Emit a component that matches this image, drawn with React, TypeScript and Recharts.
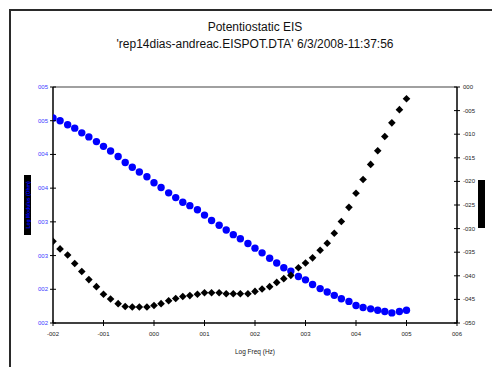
import React from 'react';
import { ScatterChart, Scatter, XAxis, YAxis, ReferenceLine } from 'recharts';

const logFreq = [
  -2.0, -1.86, -1.71, -1.57, -1.43, -1.29, -1.14, -1.0, -0.86, -0.71,
  -0.57, -0.43, -0.29, -0.14, 0.0, 0.14, 0.29, 0.43, 0.57, 0.71,
  0.86, 1.0, 1.14, 1.29, 1.43, 1.57, 1.71, 1.86, 2.0, 2.14,
  2.29, 2.43, 2.57, 2.71, 2.86, 3.0, 3.14, 3.29, 3.43, 3.57,
  3.71, 3.86, 4.0, 4.14, 4.29, 4.43, 4.57, 4.71, 4.86, 5.0,
];

const logModulus = [
  4.54, 4.5, 4.44, 4.39, 4.32, 4.26, 4.19, 4.12, 4.05, 3.97,
  3.88, 3.81, 3.74, 3.67, 3.58, 3.51, 3.43, 3.36, 3.29, 3.24,
  3.18, 3.1, 3.02, 2.95, 2.88, 2.81, 2.75, 2.68, 2.61, 2.54,
  2.46, 2.39, 2.32, 2.27, 2.19, 2.14, 2.07, 2.01, 1.96, 1.91,
  1.86, 1.82, 1.76, 1.73, 1.71, 1.69, 1.67, 1.65, 1.67, 1.69,
];

const phase = [
  -32.7, -34.3, -35.6, -37.4, -39.1, -40.8, -42.3, -43.9, -44.9, -45.9,
  -46.5, -46.6, -46.6, -46.6, -46.3, -45.9, -45.3, -44.8, -44.4, -44.2,
  -43.9, -43.6, -43.6, -43.6, -43.8, -43.8, -43.8, -43.8, -43.3, -42.8,
  -42.3, -41.4, -40.6, -39.9, -38.3, -37.3, -36.2, -34.6, -33.1, -31.0,
  -28.5, -25.5, -22.5, -19.6, -16.4, -13.5, -10.5, -7.6, -4.8, -2.5,
];

const xTicks = [-2, -1, 0, 1, 2, 3, 4, 5, 6];
const leftTicks = [1.5, 2, 2.5, 3, 3.5, 4, 4.5, 5];
const rightTicks = [-50, -45, -40, -35, -30, -25, -20, -15, -10, -5, 0];

const title1 = 'Potentiostatic EIS';
const title2 = "'rep14dias-andreac.EISPOT.DTA' 6/3/2008-11:37:56";
const xLabel = 'Log Freq (Hz)';
const leftLabel = 'Log Modulus (Ohm)';
const rightLabel = 'Phase (deg)';

const modData = logFreq.map((f, i) => ({ f, mod: logModulus[i] }));
const phaseData = logFreq.map((f, i) => ({ f, phase: phase[i] }));

const pad = (n: number) => {
  const r = Math.round(n);
  return (r < 0 ? '-' : '') + String(Math.abs(r)).padStart(3, '0');
};

const FONT = '"Liberation Sans", Arial, sans-serif';
const TS = 3;
const TM_L = 2;
const TM_R = 3;
const TM_B = 6;

const LeftTick = (props: any) => {
  const { x, y, payload } = props;
  const ax = x + TS + TM_L;
  return (
    <g>
      <line x1={ax - 3} x2={ax + 3} y1={y} y2={y} stroke="#000" strokeWidth={1} />
      <text x={x} y={y} dy={2} textAnchor="end" fontSize={6} fill="#3a3aff" fontFamily={FONT}>
        {pad(payload.value)}
      </text>
    </g>
  );
};

const RightTick = (props: any) => {
  const { x, y, payload } = props;
  const ax = x - TS - TM_R;
  return (
    <g>
      <line x1={ax - 3} x2={ax + 3} y1={y} y2={y} stroke="#000" strokeWidth={1} />
      <text x={x} y={y} dy={2} textAnchor="start" fontSize={6} fill="#222" fontFamily={FONT}>
        {pad(payload.value)}
      </text>
    </g>
  );
};

const BottomTick = (props: any) => {
  const { x, y, payload } = props;
  const ay = y - TS - TM_B;
  return (
    <g>
      <line x1={x} x2={x} y1={ay - 3} y2={ay + 3} stroke="#000" strokeWidth={1} />
      <text x={x} y={y} dy={4} textAnchor="middle" fontSize={6} fill="#222" fontFamily={FONT}>
        {pad(payload.value)}
      </text>
    </g>
  );
};

const Dot = (props: any) => {
  const { cx, cy } = props;
  return <circle cx={cx} cy={cy} r={3.7} fill="#0000ff" />;
};

const Diamond = (props: any) => {
  const { cx, cy } = props;
  const s = 3.8;
  return (
    <polygon
      points={`${cx},${cy - s} ${cx + s},${cy} ${cx},${cy + s} ${cx - s},${cy}`}
      fill="#000"
    />
  );
};

export default function App() {
  return (
    <div style={{ position: 'absolute', left: 0, top: 0, width: 492, height: 367, overflow: 'hidden', background: '#fff', fontFamily: FONT }}>
      <div style={{ position: 'absolute', left: 9, top: 9, width: 600, height: 600, borderLeft: '2px solid #2a2a2a', borderTop: '2px solid #2a2a2a' }} />
      <div style={{ position: 'absolute', left: 0, width: 510, top: 19, textAlign: 'center', fontSize: 12, lineHeight: '17px', color: '#111' }}>
        <div>{title1}</div>
        <div>{title2}</div>
      </div>
      <div style={{ position: 'absolute', left: 24, top: 175, width: 7, height: 60, background: '#000', display: 'flex', alignItems: 'center', justifyContent: 'center', overflow: 'hidden' }}>
        <div style={{ transform: 'rotate(-90deg)', whiteSpace: 'nowrap', fontSize: 5, color: '#0000ff', fontWeight: 'bold' }}>{leftLabel}</div>
      </div>
      <div style={{ position: 'absolute', left: 478, top: 180, width: 7, height: 48, background: '#000', display: 'flex', alignItems: 'center', justifyContent: 'center', overflow: 'hidden' }}>
        <div style={{ transform: 'rotate(90deg)', whiteSpace: 'nowrap', fontSize: 5, color: '#000' }}>{rightLabel}</div>
      </div>
      <div style={{ position: 'absolute', left: 0, top: 0 }}>
        <ScatterChart width={492} height={367} margin={{ top: 87, right: 5, bottom: 14, left: 13 }}>
          <XAxis
            dataKey="f"
            type="number"
            domain={[-2, 6]}
            ticks={xTicks}
            allowDataOverflow
            tickSize={TS}
            tickMargin={TM_B}
            tickLine={false}
            tick={<BottomTick />}
            axisLine={{ stroke: '#000', strokeWidth: 1.5 }}
            height={30}
            label={{ value: xLabel, position: 'insideBottom', offset: -1, fontSize: 6.5, fill: '#222', fontFamily: FONT }}
          />
          <YAxis
            yAxisId="left"
            dataKey="mod"
            type="number"
            domain={[1.5, 5]}
            ticks={leftTicks}
            allowDataOverflow
            width={40}
            tickSize={TS}
            tickMargin={TM_L}
            tickLine={false}
            tick={<LeftTick />}
            axisLine={{ stroke: '#000', strokeWidth: 1.5 }}
          />
          <YAxis
            yAxisId="right"
            orientation="right"
            dataKey="phase"
            type="number"
            domain={[-50, 0]}
            ticks={rightTicks}
            allowDataOverflow
            width={30}
            tickSize={TS}
            tickMargin={TM_R}
            tickLine={false}
            tick={<RightTick />}
            axisLine={{ stroke: '#000', strokeWidth: 1.5 }}
          />
          <ReferenceLine yAxisId="left" y={5} stroke="#808080" strokeWidth={1.5} />
          <Scatter yAxisId="left" data={modData} shape={<Dot />} isAnimationActive={false} />
          <Scatter yAxisId="right" data={phaseData} shape={<Diamond />} isAnimationActive={false} />
        </ScatterChart>
      </div>
    </div>
  );
}
